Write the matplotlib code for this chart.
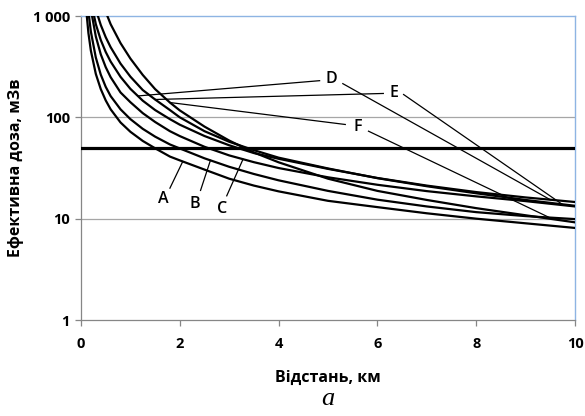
import numpy as np
import matplotlib
matplotlib.use("Agg")
import matplotlib.pyplot as plt
from matplotlib.ticker import FixedLocator, NullLocator

# ---- data ----
distance = [0.1, 0.15, 0.2, 0.3, 0.4, 0.5, 0.6, 0.8, 1.0, 1.25, 1.5, 1.8, 2.0,
            2.5, 3.0, 3.5, 4, 5, 6, 7, 8, 9, 10]

dose_A = [1230, 680, 454, 268, 190, 147, 120, 89, 72, 58.5, 49.5, 41, 37.6,
          30.5, 24.8, 21.2, 18.6, 15.0, 13.0, 11.3, 10.0, 9.0, 8.1]
dose_B = [2100, 1109, 700, 389, 264, 200, 162, 120, 96, 77, 64.5, 54, 49.3,
          39.4, 32.5, 27.6, 23.9, 18.8, 15.4, 13.2, 11.6, 10.6, 9.9]
dose_C = [3800, 1846, 1159, 628, 419, 313, 249, 176, 141, 110, 90, 73, 65.3,
          51.2, 42.1, 36.1, 31.6, 25.6, 21.6, 18.7, 16.6, 14.9, 13.2]
dose_D = [5000, 2200, 1407, 831, 580, 442, 355, 251, 191, 146, 118, 96, 84.6,
          65.4, 53, 44.4, 39, 31, 25.2, 21.2, 18.3, 16.2, 14.6]
dose_E = [8000, 3000, 2000, 1162, 816, 618, 492, 339, 252, 186, 150, 118, 100,
          73, 57.4, 47.4, 40, 31.3, 25.1, 20.9, 17.8, 15.3, 13.4]
dose_F = [20000, 8000, 4500, 2300, 1500, 1100, 830, 540, 380, 262, 190, 140, 117,
          81, 59, 45, 36, 24.8, 18.8, 15.3, 12.7, 10.8, 9.2]

curves = {"A": dose_A, "B": dose_B, "C": dose_C,
          "D": dose_D, "E": dose_E, "F": dose_F}

threshold = 50

x_ticks = [0, 2, 4, 6, 8, 10]
y_ticks = [1, 10, 100, 1000]
y_tick_labels = ["1", "10", "100", "1 000"]

x_label = "Відстань, км"
y_label = "Ефективна доза, мЗв"
caption = "а"

# label placement: (label_x, label_y, [(start_x, start_y, curve_x), ...])
labels = {
    "A": (1.66, 15.6, [(1.80, 20.0, 2.06)]),
    "B": (2.31, 14.0, [(2.42, 19.0, 2.62)]),
    "C": (2.85, 12.5, [(2.95, 16.8, 3.28)]),
    "D": (5.07, 240, [(4.83, 230, 1.15), (5.30, 215, 9.50)]),
    "E": (6.33, 172, [(6.12, 172, 1.50), (6.53, 168, 9.74)]),
    "F": (5.60, 80, [(5.35, 85, 1.80), (5.82, 73, 9.55)]),
}

# ---- figure ----
plt.rcParams['font.family'] = ['Open Sans', 'DejaVu Sans']
fig = plt.figure(figsize=(5.85, 4.16), dpi=100)
ax = fig.add_axes([81 / 585, 1 - 320 / 416, (575 - 81) / 585, (320 - 16) / 416])

x = np.array(distance)
for name, vals in curves.items():
    ax.plot(x, vals, color="black", lw=1.6, solid_joinstyle="round", zorder=3)

ax.axhline(threshold, color="black", lw=2.3, zorder=4)

ax.set_yscale("log")
ax.set_xlim(0, 10)
ax.set_ylim(1, 1000)

for v in [10, 100]:
    ax.axhline(v, color="#a6a6a6", lw=0.9, zorder=1)

# annotations
for name, (lx, ly, leaders) in labels.items():
    logv = np.log10(curves[name])
    for sx, sy, cx in leaders:
        cy = 10 ** np.interp(cx, x, logv)
        ax.plot([sx, cx], [sy, cy], color="black", lw=0.9, zorder=5)
    ax.text(lx, ly, name, ha="center", va="center", fontsize=11.5,
            fontweight="semibold", zorder=6)

ax.xaxis.set_major_locator(FixedLocator(x_ticks))
ax.yaxis.set_major_locator(FixedLocator(y_ticks))
ax.yaxis.set_minor_locator(NullLocator())
ax.set_yticklabels(y_tick_labels)
ax.tick_params(axis="both", which="major", labelsize=10.5, color="#868686",
               length=4, width=0.9, direction="out")
ax.tick_params(axis="x", pad=8)
ax.tick_params(axis="y", pad=4)
for lab in ax.get_xticklabels() + ax.get_yticklabels():
    lab.set_fontweight("bold")

for side in ["left", "bottom"]:
    ax.spines[side].set_color("#868686")
    ax.spines[side].set_linewidth(0.9)
for side in ["top", "right"]:
    ax.spines[side].set_color("#8eb4e3")
    ax.spines[side].set_linewidth(1.0)

ax.set_xlabel(x_label, fontsize=11.5, fontweight="bold", labelpad=14)
ax.set_ylabel(y_label, fontsize=11.5, fontweight="bold", labelpad=6)

fig.text(328 / 585, 1 - 399 / 416, caption, ha="center", va="center",
         fontsize=19, family=["Liberation Serif"], style="italic")

fig.savefig("out.png", dpi=100)
